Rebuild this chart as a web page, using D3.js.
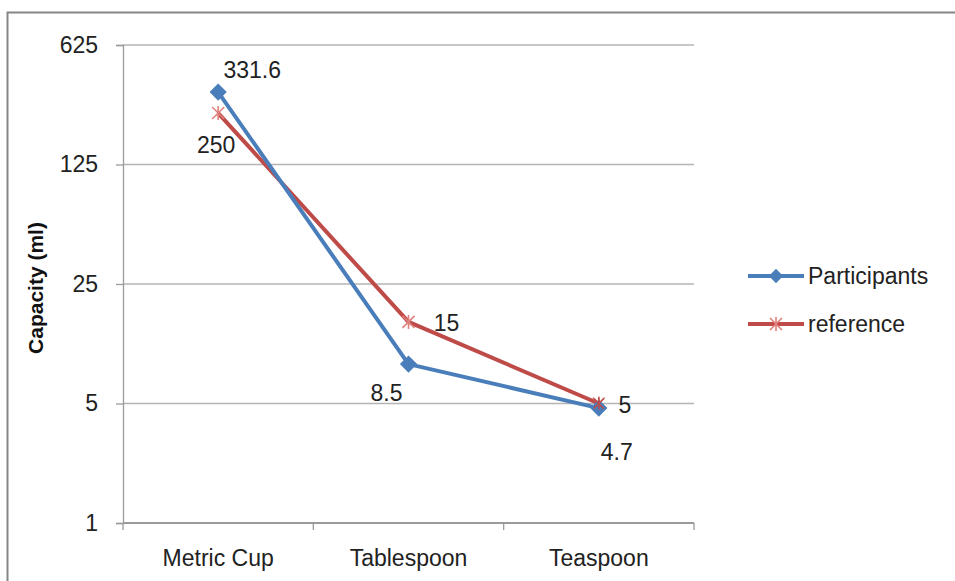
<!DOCTYPE html>
<html lang="en">
<head>
  <meta charset="UTF-8" />
  <title>Capacity (ml)</title>
  <script src="https://d3js.org/d3.v7.min.js"></script>
  <style>
    html, body {
      margin: 0;
      padding: 0;
      width: 955px;
      height: 581px;
      background: #fff;
      overflow: hidden;
      font-family: "Liberation Sans", Arial, sans-serif;
    }
  </style>
</head>
<body>
  <div id="chart"></div>

  <script>
    // ---- data ----
    const categories = ["Metric Cup", "Tablespoon", "Teaspoon"];
    const participants = [331.6, 8.5, 4.7];
    const reference = [250, 15, 5];
    const yTicks = [1, 5, 25, 125, 625];

    const width = 955, height = 581;
    const plot = { left: 123, right: 694, top: 45, bottom: 523 };
    const fontSize = 23;

    const svg = d3.select("#chart").append("svg")
      .attr("width", width)
      .attr("height", height);

    // outer chart frame (runs off the right and bottom edges)
    svg.append("rect")
      .attr("x", 7.5).attr("y", 12.5)
      .attr("width", 1000).attr("height", 1000)
      .attr("fill", "#fff")
      .attr("stroke", "#868686")
      .attr("stroke-width", 2);

    // ---- scales ----
    const x = d3.scaleBand()
      .domain(categories)
      .range([plot.left, plot.right]);

    const y = d3.scaleLog()
      .base(5)
      .domain([1, 625])
      .range([plot.bottom, plot.top]);

    // horizontal gridlines
    svg.append("g")
      .selectAll("line")
      .data(yTicks)
      .enter()
      .append("line")
      .attr("x1", plot.left)
      .attr("x2", plot.right)
      .attr("y1", d => y(d))
      .attr("y2", d => y(d))
      .attr("stroke", d => d === 1 ? "#9a9a9a" : "#b4b4b4")
      .attr("stroke-width", d => d === 1 ? 2 : 1.3);

    // y axis
    const yAxis = svg.append("g")
      .attr("transform", `translate(${plot.left},0)`)
      .call(d3.axisLeft(y).tickValues(yTicks).tickFormat(d3.format("d")).tickSize(7).tickPadding(18));
    yAxis.select(".domain").attr("stroke", "#9a9a9a").attr("stroke-width", 1.3);
    yAxis.selectAll(".tick line").attr("stroke", "#9a9a9a").attr("stroke-width", 1.3);
    yAxis.selectAll("text")
      .attr("font-family", "Liberation Sans, Arial, sans-serif")
      .attr("font-size", fontSize)
      .attr("fill", "#222");

    // x axis: ticks sit on the band boundaries
    const xAxis = svg.append("g")
      .attr("transform", `translate(0,${plot.bottom})`);
    const bounds = categories.map(c => x(c)).concat([x(categories[categories.length - 1]) + x.bandwidth()]);
    xAxis.selectAll("line")
      .data(bounds)
      .enter()
      .append("line")
      .attr("x1", d => d).attr("x2", d => d)
      .attr("y1", 0).attr("y2", 7)
      .attr("stroke", "#9a9a9a")
      .attr("stroke-width", 1.3);
    xAxis.selectAll("text")
      .data(categories)
      .enter()
      .append("text")
      .attr("x", d => x(d) + x.bandwidth() / 2)
      .attr("y", 43)
      .attr("text-anchor", "middle")
      .attr("font-size", fontSize)
      .attr("fill", "#222")
      .text(d => d);

    // y axis title
    svg.append("text")
      .attr("transform", `translate(43,${(plot.top + plot.bottom) / 2 + 4}) rotate(-90)`)
      .attr("text-anchor", "middle")
      .attr("font-size", 21)
      .attr("font-weight", "bold")
      .attr("fill", "#111")
      .text("Capacity (ml)");

    // ---- series ----
    const blue = "#4a7ebb", red = "#be4b48", redLight = "#e0807c";
    const cx = d => x(d) + x.bandwidth() / 2;

    const line = d3.line()
      .x((d, i) => cx(categories[i]))
      .y(d => y(d));

    svg.append("path")
      .datum(reference)
      .attr("d", line)
      .attr("fill", "none")
      .attr("stroke", red)
      .attr("stroke-width", 4)
      .attr("stroke-linejoin", "round");

    svg.append("path")
      .datum(participants)
      .attr("d", line)
      .attr("fill", "none")
      .attr("stroke", blue)
      .attr("stroke-width", 4)
      .attr("stroke-linejoin", "round");

    // star markers for reference
    function star(g, px, py, s, color) {
      g.append("path")
        .attr("d", `M${px - s},${py - s}L${px + s},${py + s}M${px - s},${py + s}L${px + s},${py - s}M${px},${py - s - 1}L${px},${py + s + 1}`)
        .attr("stroke", color)
        .attr("stroke-width", 1.6)
        .attr("fill", "none");
    }
    const refMarks = svg.append("g");
    reference.forEach((v, i) => star(refMarks, cx(categories[i]), y(v), 6, redLight));

    // diamond markers for participants
    const diamond = d3.symbol().type(d3.symbolDiamond2).size(190);
    svg.append("g")
      .selectAll("path")
      .data(participants)
      .enter()
      .append("path")
      .attr("d", diamond)
      .attr("transform", (d, i) => `translate(${cx(categories[i])},${y(d)})`)
      .attr("fill", blue);

    // the red star shows on top at Teaspoon like the original
    star(svg.append("g"), cx(categories[2]), y(reference[2]), 5, red);

    // ---- data labels ----
    const pOffsets = [[34, -14], [-22, 37], [18, 52]];
    const rOffsets = [[-2, 40], [38, 9], [26, 9]];
    const labels = svg.append("g")
      .attr("font-size", fontSize)
      .attr("fill", "#222")
      .attr("text-anchor", "middle");
    participants.forEach((v, i) => {
      labels.append("text")
        .attr("x", cx(categories[i]) + pOffsets[i][0])
        .attr("y", y(v) + pOffsets[i][1])
        .text(v);
    });
    reference.forEach((v, i) => {
      labels.append("text")
        .attr("x", cx(categories[i]) + rOffsets[i][0])
        .attr("y", y(v) + rOffsets[i][1])
        .text(v);
    });

    // ---- legend ----
    const legend = svg.append("g").attr("transform", "translate(748,276)");
    const items = [
      { name: "Participants", color: blue },
      { name: "reference", color: red }
    ];
    items.forEach((it, i) => {
      const g = legend.append("g").attr("transform", `translate(0,${i * 48})`);
      g.append("line")
        .attr("x1", 0).attr("x2", 56)
        .attr("y1", 0).attr("y2", 0)
        .attr("stroke", it.color)
        .attr("stroke-width", 4);
      if (i === 0) {
        g.append("path")
          .attr("d", d3.symbol().type(d3.symbolDiamond2).size(130))
          .attr("transform", "translate(28,0)")
          .attr("fill", blue);
      } else {
        star(g, 28, 0, 6, redLight);
      }
      g.append("text")
        .attr("x", 60)
        .attr("y", 8)
        .attr("font-size", fontSize)
        .attr("fill", "#222")
        .text(it.name);
    });
  </script>
</body>
</html>
